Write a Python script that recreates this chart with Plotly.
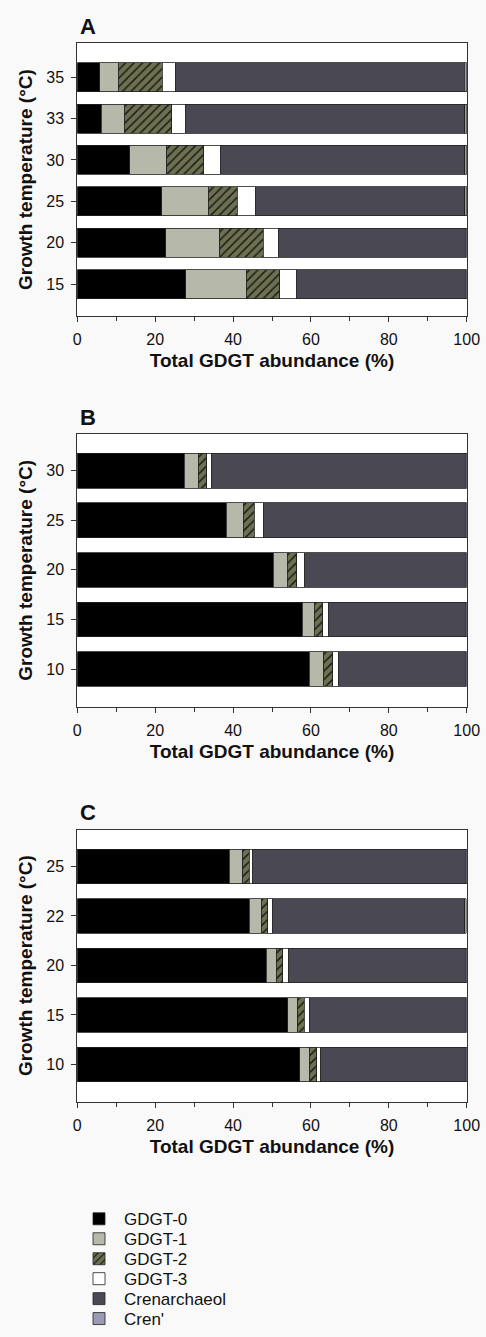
import plotly.graph_objects as go

# ---------------- data ----------------
series_names = ["GDGT-0", "GDGT-1", "GDGT-2", "GDGT-3", "Crenarchaeol", "Cren'"]

temps_A = ["15", "20", "25", "30", "33", "35"]
A_gdgt0 = [27.9, 22.7, 21.7, 13.5, 6.1, 5.8]
A_gdgt1 = [15.5, 13.9, 11.9, 9.5, 5.9, 4.7]
A_gdgt2 = [8.6, 11.1, 7.5, 9.5, 12.2, 11.3]
A_gdgt3 = [4.2, 4.0, 4.6, 4.3, 3.5, 3.5]
A_cren = [43.4, 47.9, 53.8, 62.7, 71.8, 74.1]
A_crenp = [0.4, 0.4, 0.5, 0.5, 0.5, 0.6]

temps_B = ["10", "15", "20", "25", "30"]
B_gdgt0 = [59.6, 57.8, 50.3, 38.3, 27.4]
B_gdgt1 = [3.7, 3.1, 3.6, 4.3, 3.7]
B_gdgt2 = [2.3, 2.1, 2.4, 2.9, 2.1]
B_gdgt3 = [1.5, 1.6, 2.1, 2.4, 1.2]
B_cren = [32.5, 35.0, 41.2, 51.7, 65.2]
B_crenp = [0.4, 0.4, 0.4, 0.4, 0.4]

temps_C = ["10", "15", "20", "22", "25"]
C_gdgt0 = [57.1, 54.1, 48.5, 44.1, 39.0]
C_gdgt1 = [2.6, 2.5, 2.6, 3.1, 3.5]
C_gdgt2 = [1.8, 1.7, 1.7, 1.7, 1.7]
C_gdgt3 = [1.0, 1.4, 1.5, 1.1, 0.7]
C_cren = [37.1, 39.9, 45.3, 49.5, 54.7]
C_crenp = [0.4, 0.4, 0.4, 0.4, 0.4]

x_ticks = [0, 20, 40, 60, 80, 100]
x_minor = [10, 30, 50, 70, 90]
panel_letters = ["A", "B", "C"]
x_title = "Total GDGT abundance (%)"
y_title = "Growth temperature (°C)"

# ---------------- styles ----------------
W, H = 486, 1337
FONT = "Arial, Liberation Sans, Helvetica, sans-serif"
TXT = "#111111"
fills = ["#000000", "#b6b8aa", "#6d7150", "#ffffff", "#4a4953", "#9a9ab4"]
edge = "#222222"

panels = [
    (temps_A, [A_gdgt0, A_gdgt1, A_gdgt2, A_gdgt3, A_cren, A_crenp], [-0.77, 5.82], (43.3, 316.7)),
    (temps_B, [B_gdgt0, B_gdgt1, B_gdgt2, B_gdgt3, B_cren, B_crenp], [-0.76, 4.74], (435.0, 708.3)),
    (temps_C, [C_gdgt0, C_gdgt1, C_gdgt2, C_gdgt3, C_cren, C_crenp], [-0.75, 4.74], (831.7, 1104.0)),
]

x_dom = [77.3 / W, 466.7 / W]
legend_y0, legend_dy, legend_x = 1222, 20, 74

fig = go.Figure()
layout = dict(
    width=W, height=H, autosize=False,
    margin=dict(l=0, r=0, t=0, b=0),
    paper_bgcolor="#f9f9f9", plot_bgcolor="#ffffff",
    barmode="stack", bargap=0.3,
    font=dict(family=FONT, size=16, color=TXT),
    showlegend=True,
)

for k, name in enumerate(series_names):
    key = "legend" if k == 0 else f"legend{k + 1}"
    layout[key] = dict(
        x=legend_x / W, y=1 - (legend_y0 + k * legend_dy) / H,
        xanchor="left", yanchor="middle",
        font=dict(size=17, family=FONT, color=TXT),
        bgcolor="rgba(0,0,0,0)", itemwidth=40,
    )

annotations = []
for i, (temps, vals, yr, (top, bot)) in enumerate(panels):
    n = i + 1
    xa = "x" if n == 1 else f"x{n}"
    ya = "y" if n == 1 else f"y{n}"
    for k, name in enumerate(series_names):
        marker = dict(color=fills[k], line=dict(color=edge, width=0.8))
        if name == "GDGT-2":
            marker["pattern"] = dict(shape="/", fgcolor="#1a1a1a", bgcolor=fills[k],
                                     size=6, solidity=0.25, fillmode="replace")
        fig.add_trace(go.Bar(
            x=vals[k], y=temps, orientation="h", name=name,
            marker=marker, width=0.7, xaxis=xa, yaxis=ya,
            showlegend=(n == 1), legendgroup=name,
            legend=("legend" if k == 0 else f"legend{k + 1}"),
        ))
    ydom = [1 - bot / H, 1 - top / H]
    layout[f"xaxis{'' if n == 1 else n}"] = dict(
        domain=x_dom, anchor=ya, range=[0, 100], automargin=False,
        tickvals=x_ticks, ticks="outside", ticklen=5, tickwidth=1, tickcolor="#333",
        minor=dict(tickvals=x_minor, ticks="outside", ticklen=4, tickcolor="#333"),
        showline=True, linecolor="#333", linewidth=1, mirror=True,
        showgrid=False, zeroline=False, ticklabelstandoff=4,
        tickfont=dict(size=16, color=TXT),
        title=dict(text=f"<b>{x_title}</b>", font=dict(size=19, color=TXT), standoff=6),
    )
    layout[f"yaxis{'' if n == 1 else n}"] = dict(
        domain=ydom, anchor=xa, type="category", categoryorder="array",
        categoryarray=temps, range=yr, automargin=False,
        ticks="outside", ticklen=5, tickcolor="#333",
        showline=True, linecolor="#333", linewidth=1, mirror=True,
        showgrid=False, zeroline=False, ticklabelstandoff=4,
        tickfont=dict(size=16, color=TXT),
        title=dict(text=f"<b>{y_title}</b>", font=dict(size=19, color=TXT), standoff=8),
    )
    # top inner minor ticks
    m = n + 3
    layout[f"xaxis{m}"] = dict(
        overlaying=xa, anchor=ya, side="top", range=[0, 100], automargin=False,
        tickvals=x_minor, ticks="inside", ticklen=4, tickcolor="#333",
        showticklabels=False, showgrid=False, zeroline=False, showline=False,
    )
    annotations.append(dict(
        text=f"<b>{panel_letters[i]}</b>", x=77.5 / W, y=1 - (top - 17) / H,
        xref="paper", yref="paper", xanchor="left", yanchor="middle",
        showarrow=False, font=dict(size=22, color=TXT, family=FONT),
    ))

layout["annotations"] = annotations
fig.update_layout(**layout)
fig.write_html(
    "out.html",
    config={"displayModeBar": False},
    post_script="document.body.style.margin='0';document.body.style.overflow='hidden';",
)
